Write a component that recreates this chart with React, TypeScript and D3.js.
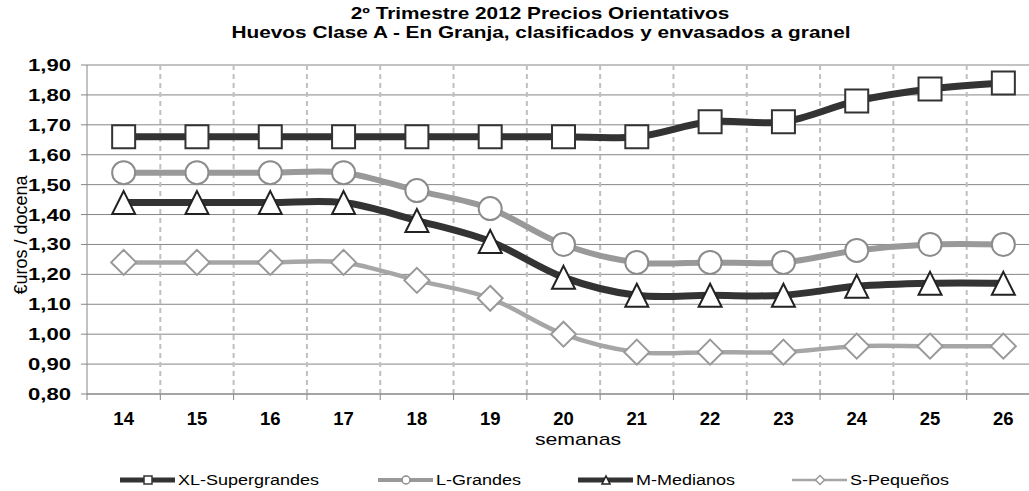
import React from "react";
import * as d3 from "d3";

const weeks = ["14", "15", "16", "17", "18", "19", "20", "21", "22", "23", "24", "25", "26"];
const xlSupergrandes = [1.66, 1.66, 1.66, 1.66, 1.66, 1.66, 1.66, 1.66, 1.71, 1.71, 1.78, 1.82, 1.84];
const lGrandes = [1.54, 1.54, 1.54, 1.54, 1.48, 1.42, 1.30, 1.24, 1.24, 1.24, 1.28, 1.30, 1.30];
const mMedianos = [1.44, 1.44, 1.44, 1.44, 1.38, 1.31, 1.19, 1.13, 1.13, 1.13, 1.16, 1.17, 1.17];
const sPequenos = [1.24, 1.24, 1.24, 1.24, 1.18, 1.12, 1.00, 0.94, 0.94, 0.94, 0.96, 0.96, 0.96];
const yTicks = [0.8, 0.9, 1.0, 1.1, 1.2, 1.3, 1.4, 1.5, 1.6, 1.7, 1.8, 1.9];

type Marker = "square" | "circle" | "triangle" | "diamond";
type Series = { name: string; values: number[]; color: string; width: number; marker: Marker; markerStroke: string };

const series: Series[] = [
    { name: "XL-Supergrandes", values: xlSupergrandes, color: "#333333", width: 7, marker: "square", markerStroke: "#333333" },
    { name: "L-Grandes", values: lGrandes, color: "#999999", width: 6, marker: "circle", markerStroke: "#8c8c8c" },
    { name: "M-Medianos", values: mMedianos, color: "#333333", width: 7, marker: "triangle", markerStroke: "#222222" },
    { name: "S-Pequeños", values: sPequenos, color: "#a6a6a6", width: 4.5, marker: "diamond", markerStroke: "#999999" },
];

const W = 1029;
const H = 491;
const left = 87;
const right = 1040;
const top = 65;
const bottom = 394;
const font = "'Liberation Sans', Arial, sans-serif";

function markerPath(m: Marker, s: number): string {
    const h = s / 2;
    if (m === "square") return `M${-h},${-h}H${h}V${h}H${-h}Z`;
    if (m === "triangle") return `M0,${-h}L${h},${h}L${-h},${h}Z`;
    if (m === "diamond") return `M0,${-h}L${h},0L0,${h}L${-h},0Z`;
    return `M${h},0A${h},${h} 0 1,1 ${-h},0A${h},${h} 0 1,1 ${h},0Z`;
}

export default function App() {
    const x = d3.scaleBand<string>().domain(weeks).range([left, right]);
    const y = d3.scaleLinear().domain([0.8, 1.9]).range([bottom, top]);
    const cx = (w: string) => (x(w) ?? 0) + x.bandwidth() / 2;

    const line = d3.line<number>()
        .x((_, i) => cx(weeks[i]))
        .y(d => y(d))
        .curve(d3.curveCardinal.tension(0));

    const fmt = (v: number) => v.toFixed(2).replace(".", ",");
    const legendX = [120, 378, 578, 792];

    return (
        <div style={{ position: "fixed", left: 0, top: 0 }}>
            <svg width={W} height={H} style={{ display: "block", background: "#fff" }}>
                {/* horizontal grid */}
                {yTicks.map(t => (
                    <g key={t}>
                        <line x1={left} x2={right} y1={y(t)} y2={y(t)} stroke="#868686" strokeWidth={1} />
                        <line x1={left - 6} x2={left} y1={y(t)} y2={y(t)} stroke="#868686" />
                        <text transform={`translate(71,${y(t) + 6}) scale(1.3,1)`} textAnchor="end" fontFamily={font} fontWeight="bold" fontSize={17} fill="#000">{fmt(t)}</text>
                    </g>
                ))}
                {/* vertical dashed grid */}
                {weeks.slice(1).map(w => (
                    <line key={w} x1={x(w)} x2={x(w)} y1={top} y2={bottom} stroke="#bfbfbf" strokeWidth={2} strokeDasharray="5,4" />
                ))}
                {weeks.map(w => (
                    <g key={"t" + w}>
                        <line x1={(x(w) ?? 0) + x.bandwidth()} x2={(x(w) ?? 0) + x.bandwidth()} y1={bottom} y2={bottom + 6} stroke="#868686" />
                        <text x={cx(w)} y={425} textAnchor="middle" fontFamily={font} fontWeight="bold" fontSize={18.5} fill="#000">{w}</text>
                    </g>
                ))}
                <line x1={left} x2={left} y1={top} y2={bottom + 6} stroke="#868686" />
                <line x1={left} x2={right} y1={bottom} y2={bottom} stroke="#868686" />

                {/* series */}
                {series.map(s => (
                    <path key={s.name} d={line(s.values) ?? ""} fill="none" stroke={s.color} strokeWidth={s.width} strokeLinejoin="round" />
                ))}
                {series.map(s => s.values.map((v, i) => (
                    <path key={s.name + i} d={markerPath(s.marker, s.marker === "diamond" ? 25 : 23)} transform={`translate(${cx(weeks[i])},${y(v)})`}
                        fill="#fff" stroke={s.markerStroke} strokeWidth={2} />
                )))}

                {/* titles */}
                <text transform="translate(540,19) scale(1.3,1)" textAnchor="middle" fontFamily={font} fontWeight="bold" fontSize={16}>2º Trimestre 2012  Precios Orientativos</text>
                <text transform="translate(541,38) scale(1.3,1)" textAnchor="middle" fontFamily={font} fontWeight="bold" fontSize={16}>Huevos Clase A - En Granja, clasificados y envasados a granel</text>
                <text transform="translate(578,445) scale(1.25,1)" textAnchor="middle" fontFamily={font} fontSize={17}>semanas</text>
                <text transform="translate(27,235) rotate(-90)" textAnchor="middle" fontFamily={font} fontSize={18}>€uros / docena</text>

                {/* legend */}
                {series.map((s, i) => (
                    <g key={"lg" + s.name} transform={`translate(${legendX[i]},480)`}>
                        <line x1={0} x2={55} y1={0} y2={0} stroke={s.color} strokeWidth={s.width - 2} />
                        <path d={markerPath(s.marker, s.marker === "diamond" ? 9 : 8)} transform="translate(28,0)" fill="#fff" stroke={s.markerStroke} strokeWidth={1.5} />
                        <text transform="translate(58,5) scale(1.2,1)" fontFamily={font} fontSize={15} fill="#000">{s.name}</text>
                    </g>
                ))}
            </svg>
        </div>
    );
}
